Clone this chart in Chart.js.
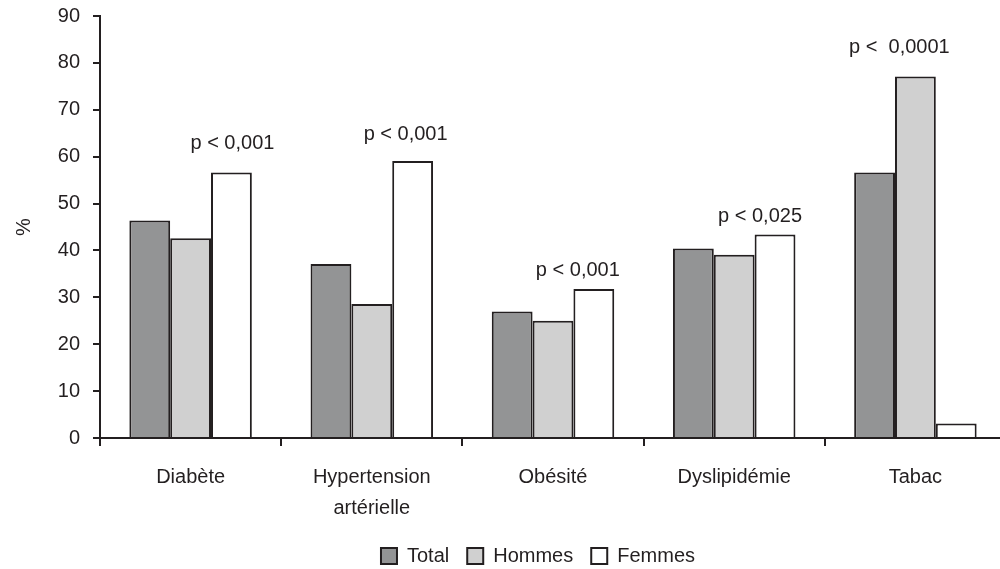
<!DOCTYPE html>
<html>
<head>
<meta charset="utf-8">
<script src="https://cdn.jsdelivr.net/npm/chart.js@4"></script>
<style>
  html, body { margin: 0; padding: 0; background: #fff; overflow: hidden; }
  #wrap { width: 1008px; height: 569px; }
</style>
</head>
<body>
<div id="wrap"><canvas id="chart"></canvas></div>
<script>
const categories = ['Diabète', ['Hypertension', 'artérielle'], 'Obésité', 'Dyslipidémie', 'Tabac'];
const total = [46.4, 37.1, 27, 40.4, 56.6];
const hommes = [42.6, 28.6, 25, 39.1, 77.1];
const femmes = [56.6, 59.1, 31.8, 43.4, 3.1];
const pValues = ['p < 0,001', 'p < 0,001', 'p < 0,001', 'p < 0,025', 'p <  0,0001'];
// which series each p label sits above (2 = Femmes, 1 = Hommes)
const pAnchor = [2, 2, 2, 2, 1];

const ink = '#231f20';
const font = { family: '"Liberation Sans", Arial, Helvetica, sans-serif', size: 20 };

// small nudges so the labels land where the original put them
const pNudge = [[1, -29], [-7, -26], [-16, -18], [-15, -18], [-16, -29]];

const pLabelPlugin = {
  id: 'pLabels',
  afterDatasetsDraw(chart) {
    const ctx = chart.ctx;
    ctx.save();
    ctx.font = `${font.size}px ${font.family}`;
    ctx.fillStyle = ink;
    ctx.textAlign = 'center';
    ctx.textBaseline = 'middle';
    pValues.forEach((txt, i) => {
      const bar = chart.getDatasetMeta(pAnchor[i]).data[i];
      ctx.fillText(txt, bar.x + pNudge[i][0], bar.y + pNudge[i][1]);
    });
    ctx.restore();
  }
};

const shiftLegend = {
  id: 'shiftLegend',
  afterLayout(chart) {
    chart.legend.left += 35;
    chart.legend.right += 35;
  }
};

const context = document.getElementById('chart').getContext('2d');
const chart = new Chart(context, {
  type: 'bar',
  data: {
    labels: categories,
    datasets: [
      { label: 'Total', data: total, backgroundColor: '#939495', borderColor: ink, borderWidth: 2 },
      { label: 'Hommes', data: hommes, backgroundColor: '#d0d0d0', borderColor: ink, borderWidth: 2 },
      { label: 'Femmes', data: femmes, backgroundColor: '#ffffff', borderColor: ink, borderWidth: 2 }
    ]
  },
  options: {
    responsive: true,
    maintainAspectRatio: false,
    animation: false,
    layout: { padding: { top: 16, right: 2, left: 0, bottom: -7 } },
    datasets: { bar: { categoryPercentage: 0.676, barPercentage: 1 } },
    plugins: {
      tooltip: { enabled: false },
      legend: {
        position: 'bottom',
        labels: { color: ink, font: font, boxWidth: 16, boxHeight: 16, padding: 18 }
      }
    },
    scales: {
      x: {
        grid: { drawOnChartArea: false, color: ink, lineWidth: 2, tickLength: 8, offset: true },
        border: { color: ink, width: 2 },
        ticks: { color: ink, font: { ...font, lineHeight: 1.55 }, padding: 16, maxRotation: 0 },
        afterFit(scale) { scale.height = 90; }
      },
      y: {
        min: 0,
        max: 90,
        ticks: { stepSize: 10, color: ink, font: font, padding: 13 },
        grid: { drawOnChartArea: false, color: ink, lineWidth: 2, tickLength: 7 },
        border: { color: ink, width: 2 },
        title: { display: true, text: '%', color: ink, font: font, padding: { top: 12, bottom: 0 } },
        afterFit(scale) {
          scale.width = 100;
          scale.paddingTop = 0;
          scale.paddingBottom = 0;
        }
      }
    }
  },
  plugins: [pLabelPlugin, shiftLegend]
});
</script>
</body>
</html>
